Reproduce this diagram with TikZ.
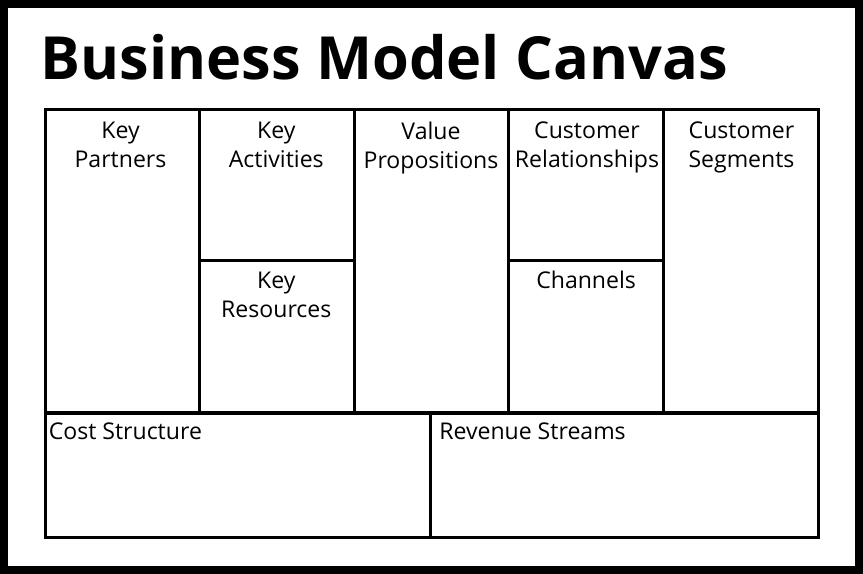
\documentclass[tikz,border=0pt]{standalone}
\usepackage{fontspec}
\setmainfont{Open Sans}
\usetikzlibrary{positioning}
\begin{document}
\begin{tikzpicture}[x=0.75pt,y=-0.75pt,
	cell/.style={draw=black, line width=2.25pt},
	head/.style={anchor=north, align=center, inner sep=0pt, font=\fontsize{17.3}{21.75}\selectfont},
	headleft/.style={anchor=base west, inner sep=0pt, font=\fontsize{17.3}{21.75}\selectfont}]
	
	\useasboundingbox (0,0) rectangle (863,574);
	\fill[white] (0,0) rectangle (863,574);
	\draw[line width=6pt] (4,4) rectangle (859,570);
	
	\node[anchor=base west, inner sep=0pt, font=\fontsize{44.6}{50}\selectfont\bfseries] (title) at (40.5,80) {Business Model Canvas};
	
	% top row
	\draw[cell] (45,110) rectangle (199.6,412);
	\draw[cell] (199.6,110) rectangle (354.2,260);
	\draw[cell] (199.6,260) rectangle (354.2,412);
	\draw[cell] (354.2,110) rectangle (508.8,412);
	\draw[cell] (508.8,110) rectangle (663.4,260);
	\draw[cell] (508.8,260) rectangle (663.4,412);
	\draw[cell] (663.4,110) rectangle (818,412);
	
	% bottom row
	\draw[cell] (45,413) rectangle (430,537);
	\draw[cell] (430,413) rectangle (818,537);
	
	\node[head] (partners) at (120.5,121.5) {Key\\Partners};
	\node[head] (activities) at (276.3,121.5) {Key\\Activities};
	\node[head] (resources) at (276.3,271.5) {Key\\Resources};
	\node[head] (value) at (431,121.5) {Value\\Propositions};
	\node[head] (relations) at (587,121.5) {Customer\\Relationships};
	\node[head] (channels) at (586.1,270.5) {Channels};
	\node[head] (segments) at (741.5,121.5) {Customer\\Segments};
	
	\node[headleft] (cost) at (48.5,439) {Cost Structure};
	\node[headleft] (revenue) at (439,439) {Revenue Streams};
	
\end{tikzpicture}
\end{document}
